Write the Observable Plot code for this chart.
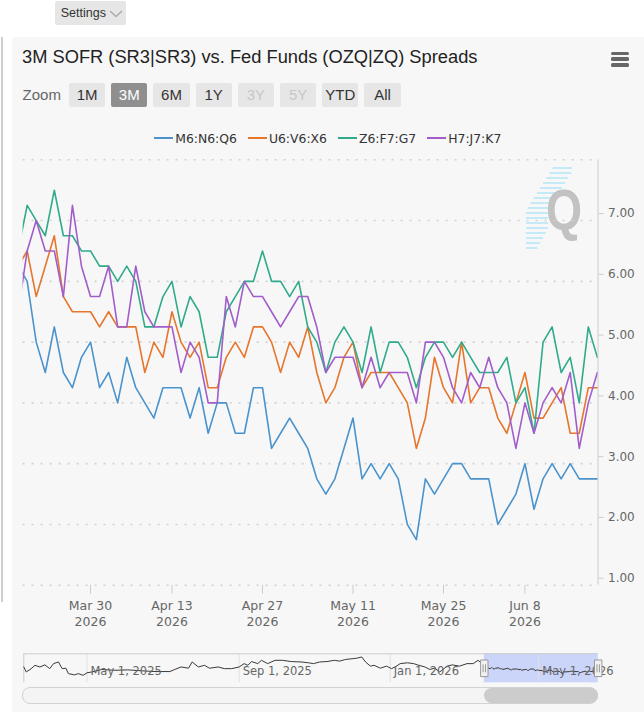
<!DOCTYPE html>
<html>
<head>
<meta charset="utf-8">
<script src="https://cdn.jsdelivr.net/npm/d3@7"></script>
<script src="https://cdn.jsdelivr.net/npm/@observablehq/plot@0.6"></script>
<style>
  html, body { margin: 0; padding: 0; }
  body { width: 644px; height: 712px; position: relative; overflow: hidden; background: #fff;
         font-family: "Liberation Sans", Arial, sans-serif; }
  .abs { position: absolute; }
  #panel { left: 11.5px; top: 37.3px; right: 0; bottom: 0; background: #f7f7f7; border-top-left-radius: 4px; }
  #leftline { left: 1px; top: 37px; width: 2px; height: 565px; background: #cfcfcf; }
  #settings { left: 55.4px; top: 0.7px; width: 70.3px; height: 24.6px; background: #e6e6e6; border-radius: 2px;
              font-size: 12.5px; color: #333; line-height: 24.6px; box-sizing: border-box; padding-left: 5.4px; }
  #settings svg { position: absolute; left: 53.5px; top: 9px; }
  #title { left: 22px; top: 45px; font-size: 18.3px; color: #222; white-space: nowrap; line-height: 24px; }
  #menu { left: 611px; top: 51.5px; width: 18px; }
  #menu div { height: 3.3px; background: #666; border-radius: 1.5px; margin-bottom: 2.6px; }
  #zoomrow { left: 22.6px; top: 82.7px; height: 24.6px; }
  #zoomrow span { position: absolute; top: 0; height: 24.6px; line-height: 24.6px; font-size: 15px; white-space: nowrap; }
  .btn { width: 36.2px; text-align: center; background: #e6e6e6; color: #333; border-radius: 2px; }
  .btn.sel { background: #8f8f8f; color: #fff; }
  .btn.dis { color: #c6c6c6; }
  #legend { left: 11.5px; right: 0; top: 129px; height: 18px; display: flex; justify-content: center; align-items: center; gap: 11px;
            font-family: "DejaVu Sans", sans-serif; font-size: 12.4px; color: #333; }
  #legend .item { display: flex; align-items: center; }
  #legend .sw { width: 19px; height: 2px; margin-right: 2px; }
  #main { left: 0; top: 150px; }
  #nav { left: 0; top: 645px; }
  #track { left: 22.3px; top: 686.7px; width: 575.4px; height: 17.6px; box-sizing: border-box; border: 1px solid #d2d2d2;
           border-radius: 8px; background: #f4f4f4; }
  #thumb { top: 687.6px; height: 15.8px; background: #cccccc; border-radius: 8px; }
  #logo { left: 520px; top: 160px; }
</style>
</head>
<body>
<div id="panel" class="abs"></div>
<div id="leftline" class="abs"></div>
<div id="settings" class="abs">Settings<svg width="14" height="8" viewBox="0 0 14 8"><polyline points="1,1 7,6.5 13,1" fill="none" stroke="#aaa" stroke-width="1.4"/></svg></div>
<div id="title" class="abs">3M SOFR (SR3|SR3) vs. Fed Funds (OZQ|ZQ) Spreads</div>
<div id="menu" class="abs"><div></div><div></div><div></div></div>
<div id="zoomrow" class="abs"></div>
<div id="legend" class="abs"></div>
<svg id="logo" class="abs" width="80" height="100"></svg>
<div id="main" class="abs"></div>
<div id="nav" class="abs"></div>
<div id="track" class="abs"></div>
<div id="thumb" class="abs"></div>

<script>
// ---------------- DATA ----------------
const seriesNames = ["M6:N6:Q6", "U6:V6:X6", "Z6:F7:G7", "H7:J7:K7"];
const seriesColors = ["#4b93cc", "#e5762c", "#2fab8b", "#a25dca"];

// business days shown in the 3M window (first one is partly clipped at the left edge)
const dates = [
  "2026-03-18","2026-03-19","2026-03-20","2026-03-23","2026-03-24","2026-03-25","2026-03-26","2026-03-27",
  "2026-03-30","2026-03-31","2026-04-01","2026-04-02","2026-04-06","2026-04-07","2026-04-08","2026-04-09","2026-04-10",
  "2026-04-13","2026-04-14","2026-04-15","2026-04-16","2026-04-17","2026-04-20","2026-04-21","2026-04-22","2026-04-23","2026-04-24",
  "2026-04-27","2026-04-28","2026-04-29","2026-04-30","2026-05-01","2026-05-04","2026-05-05","2026-05-06","2026-05-07","2026-05-08",
  "2026-05-11","2026-05-12","2026-05-13","2026-05-14","2026-05-15","2026-05-18","2026-05-19","2026-05-20","2026-05-21","2026-05-22",
  "2026-05-26","2026-05-27","2026-05-28","2026-05-29","2026-06-01","2026-06-02","2026-06-03","2026-06-04","2026-06-05",
  "2026-06-08","2026-06-09","2026-06-10","2026-06-11","2026-06-12","2026-06-15","2026-06-16","2026-06-17","2026-06-18"
];

const m6n6q6 = [6.25,
  6.0,5.0,4.5,5.25,4.5,4.25,4.75,5.0,4.25,4.5,
  4.0,4.75,4.25,4.0,3.75,4.25,4.25,4.25,3.75,4.25,
  3.5,4.0,4.0,3.5,3.5,4.25,4.25,3.25,3.5,3.75,
  3.5,3.25,2.75,2.5,2.75,3.25,3.75,2.75,3.0,2.75,
  3.0,2.75,2.0,1.75,2.75,2.5,2.75,3.0,3.0,2.75,
  2.75,2.75,2.0,2.25,2.5,3.0,2.25,2.75,3.0,2.75,
  3.0,2.75,2.75,2.75];
const u6v6x6 = [6.25,
  6.5,5.75,6.25,6.75,5.75,5.5,5.5,5.5,5.25,5.5,
  5.25,5.25,5.25,4.5,5.0,4.75,5.5,5.0,4.75,5.0,
  4.25,4.25,4.75,5.0,4.75,5.25,5.25,5.0,4.5,5.0,
  4.75,5.25,4.5,4.0,4.25,4.75,5.0,4.25,4.5,4.5,
  4.5,4.25,4.0,3.25,3.75,4.75,4.25,4.0,5.0,4.0,
  4.25,4.25,3.75,3.5,4.0,4.5,3.75,3.75,4.0,4.25,
  3.5,3.5,4.25,4.25];
const z6f7g7 = [6.5,
  7.25,7.0,6.75,7.5,6.75,6.75,6.5,6.5,6.25,6.25,
  6.0,6.25,6.0,5.25,5.25,5.75,6.0,5.25,5.75,5.5,
  4.75,4.75,5.5,5.75,6.0,6.0,6.5,6.0,6.0,5.75,
  6.0,5.25,5.0,4.5,5.0,5.25,5.0,4.5,5.25,4.5,
  5.0,5.0,4.75,4.25,4.75,5.0,5.0,4.75,5.0,4.75,
  4.5,4.5,4.5,4.75,4.0,4.25,3.5,5.0,5.25,4.5,
  4.75,4.0,5.25,4.75];
const h7j7k7 = [5.5,
  6.5,7.0,6.5,6.5,5.75,7.25,6.25,5.75,5.75,6.25,
  5.25,5.25,6.25,5.5,5.25,5.25,5.25,4.5,5.0,4.75,
  4.0,4.0,5.75,5.25,6.0,5.75,5.75,5.5,5.25,5.5,
  5.75,5.75,5.25,4.5,4.75,4.75,4.75,4.25,4.75,4.25,
  4.5,4.5,4.5,4.0,5.0,5.0,4.75,4.25,4.0,4.5,
  4.25,4.75,4.25,4.0,3.25,4.0,3.5,4.0,4.25,4.0,
  4.5,3.25,4.0,4.5];
const seriesValues = [m6n6q6, u6v6x6, z6f7g7, h7j7k7];

const xTickDates = ["2026-03-30","2026-04-13","2026-04-27","2026-05-11","2026-05-25","2026-06-08"];
const xTickLabels = ["Mar 30\n2026","Apr 13\n2026","Apr 27\n2026","May 11\n2026","May 25\n2026","Jun 8\n2026"];
const yTicks = [1, 2, 3, 4, 5, 6, 7];
const yGrid = [1, 2, 3, 4, 5, 6, 7, 8];
const yDomain = [1, 8];
const xView = [0.55, 64.07];   // visible index window (left edge cuts the first day)

// navigator history of the first series
const navHistDates = ["2025-03-11","2025-03-13","2025-03-17","2025-03-20","2025-03-24","2025-03-28","2025-04-01","2025-04-04",
  "2025-04-08","2025-04-11","2025-04-14","2025-04-16","2025-04-21","2025-04-24","2025-04-28","2025-05-01","2025-05-05",
  "2025-05-13","2025-05-23","2025-06-03","2025-06-13","2025-06-25","2025-07-07","2025-07-11","2025-07-16","2025-07-22",
  "2025-07-25","2025-07-30","2025-08-04","2025-08-08","2025-08-15","2025-08-20","2025-08-26","2025-09-01","2025-09-05",
  "2025-09-08","2025-09-11","2025-09-16","2025-09-19","2025-09-24","2025-09-30","2025-10-06","2025-10-13","2025-10-21",
  "2025-10-27","2025-10-31","2025-11-05","2025-11-11","2025-11-17","2025-11-21","2025-11-26","2025-12-02","2025-12-05",
  "2025-12-09","2025-12-12","2025-12-16","2025-12-19","2025-12-24","2025-12-29","2026-01-02","2026-01-05","2026-01-09",
  "2026-01-15","2026-01-20","2026-01-23","2026-01-29","2026-02-02","2026-02-06","2026-02-10","2026-02-16","2026-02-20",
  "2026-02-26","2026-03-04","2026-03-09","2026-03-13"];
const navHistValues = [5.5,2.5,4.5,6.5,5.5,6.75,4.5,7.5,
  8.5,4.5,4.75,1.5,0.75,1.5,0.5,2.0,2.5,
  4.0,3.5,3.75,3.25,2.75,2.75,4.0,5.5,4.75,
  8.5,5.5,6.5,4.75,5.5,4.5,4.5,5.5,7.5,
  6.5,8.75,7.5,9.5,7.5,9.5,9.5,8.75,8.5,
  8.0,7.5,8.5,8.75,9.5,9.0,10.0,10.5,10.75,
  11.5,8.5,6.0,6.5,4.75,6.0,4.5,5.5,7.5,
  8.0,7.5,6.75,5.5,4.0,4.75,2.5,6.0,6.75,
  6.0,7.5,7.5,9.5];
const navTickDates = ["2025-05-01","2025-09-01","2026-01-01","2026-05-01"];
const navDomain = ["2025-03-11","2026-06-18"];
const navYDomain = [-4, 13.4];

const zoomButtons = ["1M","3M","6M","1Y","3Y","5Y","YTD","All"];
const zoomSelected = "3M";
const zoomDisabled = ["3Y","5Y"];

// ---------------- HTML bits ----------------
const zr = document.getElementById("zoomrow");
zr.innerHTML = `<span style="left:0;color:#666">Zoom</span>` +
  zoomButtons.map((b, j) => `<span class="btn${b === zoomSelected ? " sel" : ""}${zoomDisabled.includes(b) ? " dis" : ""}" style="left:${46.4 + j * 42.2}px">${b}</span>`).join("");

document.getElementById("legend").innerHTML = seriesNames.map((s, j) =>
  `<div class="item"><div class="sw" style="background:${seriesColors[j]}"></div><span>${s}</span></div>`).join("");

// watermark logo (logo svg origin at page 520,160)
(function () {
  const svg = d3.select("#logo");
  for (let y = 8; y <= 90; y += 5) {
    const left = Math.max(6, 33 - (y - 7) * 0.62);
    const right = Math.min(52, 52 - (y - 7) * 0.55 + 10);
    const r = Math.max(left + 5, Math.min(right, left + 22));
    svg.append("line").attr("x1", left).attr("x2", r).attr("y1", y).attr("y2", y)
      .attr("stroke", "#c4e9f7").attr("stroke-width", 2);
  }
  svg.append("text").attr("transform", "translate(26,70) scale(0.8,1)")
    .attr("font-family", "Liberation Sans, Arial, sans-serif")
    .attr("font-weight", "bold").attr("font-size", 58).attr("fill", "#c2c2c2").text("Q");
})();

// ---------------- MAIN CHART ----------------
const parse = d3.utcParse("%Y-%m-%d");
const table = seriesNames.flatMap((s, j) => seriesValues[j].map((v, i) => ({i, v, s})));
const tickIdx = xTickDates.map(t => dates.findIndex(d => d >= t));
const labelOf = new Map(tickIdx.map((k, j) => [k, xTickLabels[j]]));

const W = 644, H = 490;
const main = Plot.plot({
  width: W, height: H,
  marginLeft: 22.6, marginRight: W - 597.5, marginTop: 9.3, marginBottom: 55.3,
  style: {background: "transparent", fontFamily: "DejaVu Sans, sans-serif", overflow: "visible"},
  x: {domain: xView, axis: null},
  y: {domain: yDomain, axis: null},
  color: {domain: seriesNames, range: seriesColors},
  marks: [
    Plot.ruleY(yGrid, {stroke: "#d2d2d2", strokeWidth: 1.6, strokeDasharray: "2,7"}),
    Plot.ruleX([xView[1]], {y1: yDomain[0], y2: yDomain[1], stroke: "#cccccc"}),
    Plot.line(table, {x: "i", y: "v", z: "s", stroke: "s", strokeWidth: 1.6, clip: true}),
    Plot.axisY({anchor: "right", ticks: yTicks, tickFormat: d3.format(".2f"), tickSize: 5, tickPadding: 5,
                dy: -7, stroke: "#cccccc", fill: "#666", fontSize: 12, label: null}),
    Plot.axisX({ticks: tickIdx, tickFormat: k => labelOf.get(k), tickSize: 9, tickPadding: 4.5,
                lineHeight: 1.28, stroke: "#cccccc", fill: "#666", fontSize: 12.5, label: null})
  ]
});
document.getElementById("main").appendChild(main);

// ---------------- NAVIGATOR ----------------
const navData = navHistDates.map((d, i) => ({date: parse(d), v: navHistValues[i]}))
  .concat(dates.map((d, i) => ({date: parse(d), v: m6n6q6[i]})));
const navTicks = navTickDates.map(parse);
const sel = {x1: parse(dates[0]), x2: parse(dates[dates.length - 1])};
const fmtNav = d3.utcFormat("%b %-d, %Y");
const handleSymbol = {
  draw(ctx) {
    ctx.moveTo(-3.7, -8.3); ctx.lineTo(3.7, -8.3); ctx.lineTo(3.7, 8.3); ctx.lineTo(-3.7, 8.3); ctx.closePath();
    ctx.moveTo(-1.2, -4); ctx.lineTo(-1.2, 4); ctx.moveTo(1.2, -4); ctx.lineTo(1.2, 4);
  }
};
const NH = 60;
const nav = Plot.plot({
  width: W, height: NH,
  marginLeft: 23.3, marginRight: W - 597.7, marginTop: 8.3, marginBottom: NH - 37.3,
  style: {background: "transparent", fontFamily: "DejaVu Sans, sans-serif", overflow: "visible"},
  x: {type: "utc", domain: navDomain.map(parse), axis: null},
  y: {domain: navYDomain, axis: null},
  marks: [
    Plot.rect([sel], {x1: "x1", x2: "x2", fill: "rgb(102,133,255)", fillOpacity: 0.3}),
    Plot.ruleX(navTicks, {stroke: "#e2e2e2"}),
    Plot.ruleX([parse(navDomain[0])], {stroke: "#cccccc"}),
    Plot.ruleY([navYDomain[1]], {stroke: "#cccccc"}),
    Plot.line(navData, {x: "date", y: "v", stroke: "#3a3a3a", strokeWidth: 1}),
    Plot.text(navTicks, {x: d => d, text: d => fmtNav(d), frameAnchor: "bottom", dy: -7.5, dx: 3.5,
                         textAnchor: "start", fill: "#666", fontSize: 11.5}),
    Plot.dot([sel.x1, sel.x2], {x: d => d, symbol: handleSymbol, r: 5, fill: "#f2f2f2", stroke: "#999", strokeWidth: 1})
  ]
});
document.getElementById("nav").appendChild(nav);

const sx = nav.scale("x");
const thumb = document.getElementById("thumb");
thumb.style.left = sx.apply(sel.x1) + "px";
thumb.style.width = (sx.apply(sel.x2) - sx.apply(sel.x1)) + "px";
</script>
</body>
</html>
